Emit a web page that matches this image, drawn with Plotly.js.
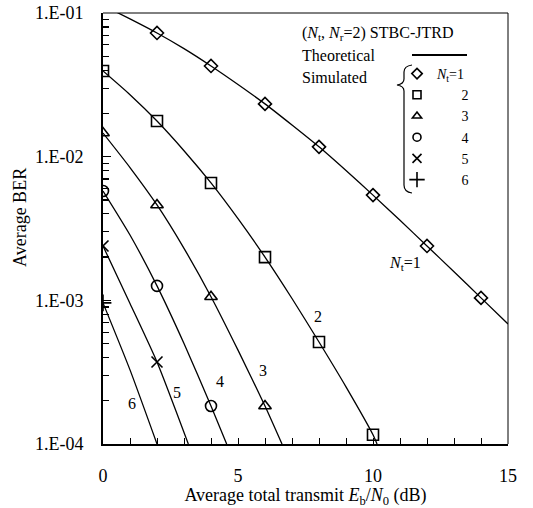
<!DOCTYPE html>
<html>
<head>
<meta charset="utf-8">
<script src="https://cdn.plot.ly/plotly-3.0.1.min.js"></script>
<style>html,body{margin:0;padding:0;background:#fff;}#chart{width:533px;height:508px;}</style>
</head>
<body>
<div id="chart"></div>
<script>
// ---- Data ----
// Theoretical curves (Eb/N0 in dB, BER)
const th1_x = [0, 1, 2, 3, 4, 5, 6, 7, 8, 9, 10, 11, 12, 13, 14, 15];
const th1_y = [0.113, 0.091, 0.0726, 0.0565, 0.0428, 0.0318, 0.0233, 0.0166, 0.0117, 0.0080, 0.0054, 0.00361, 0.00239, 0.00158, 0.00104, 0.000685];
const th2_x = [0, 1, 2, 3, 4, 5, 6, 7, 8, 9, 10, 10.15];
const th2_y = [0.0395, 0.027, 0.0177, 0.0110, 0.00656, 0.0037, 0.0020, 0.00103, 0.000513, 0.00025, 0.000116, 0.0001];
const th3_x = [0, 1, 2, 3, 4, 5, 6, 6.63];
const th3_y = [0.0146, 0.0084, 0.00461, 0.0023, 0.00106, 0.00045, 0.000184, 0.0001];
const th4_x = [0, 1, 2, 3, 4, 4.58];
const th4_y = [0.00577, 0.00285, 0.00126, 0.0005, 0.000184, 0.0001];
const th5_x = [0, 1, 2, 3.16];
const th5_y = [0.00239, 0.00095, 0.000372, 0.0001];
const th6_x = [0, 1, 2.0];
const th6_y = [0.00096, 0.000328, 0.0001];

// Simulated points
const sim1_x = [2, 4, 6, 8, 10, 12, 14];
const sim1_y = [0.0726, 0.0428, 0.0233, 0.0117, 0.0054, 0.00239, 0.00104];
const sim2_x = [0, 2, 4, 6, 8, 10];
const sim2_y = [0.0395, 0.0177, 0.00656, 0.0020, 0.000513, 0.000116];
const sim3_x = [0, 2, 4, 6];
const sim3_y = [0.0146, 0.00461, 0.00106, 0.000184];
const sim4_x = [0, 2, 4];
const sim4_y = [0.00577, 0.00126, 0.000184];
const sim5_x = [0, 2];
const sim5_y = [0.00239, 0.000372];
const sim6_x = [0];
const sim6_y = [0.00096];

const NB = '\u00a0';
const legendNames = ['<i>N</i><sub>t</sub>=1', NB.repeat(7) + '2', NB.repeat(7) + '3', NB.repeat(7) + '4', NB.repeat(7) + '5', NB.repeat(7) + '6'];
const curveLabels = ['<i>N</i><sub>t</sub>=1', '2', '3', '4', '5', '6'];
const yTickAlias = {'0.1': '1.E-01', '0.01': '1.E-02', '0.001': '1.E-03', '0.0001': '1.E-04'};
const xTickVals = [0, 5, 10, 15];
const xTickText = ['0', '5', '10', '15'];

// ---- Build traces ----
const FONT = 'Liberation Serif, Times New Roman, serif';
const thX = [th1_x, th2_x, th3_x, th4_x, th5_x, th6_x];
const thY = [th1_y, th2_y, th3_y, th4_y, th5_y, th6_y];
const simX = [sim1_x, sim2_x, sim3_x, sim4_x, sim5_x, sim6_x];
const simY = [sim1_y, sim2_y, sim3_y, sim4_y, sim5_y, sim6_y];
const symbols = ['diamond-open', 'square-open', 'triangle-up-open', 'circle-open', 'x-thin-open', 'cross-thin-open'];
const sizes = [10, 11, 11, 11, 11, 12];
const legendSizes = [8, 8, 8, 8, 9, 11];

const traces = [];
for (let i = 0; i < 6; i++) {
  traces.push({
    x: thX[i], y: thY[i], mode: 'lines', type: 'scatter',
    line: {color: '#000', width: 1.3, shape: 'spline', smoothing: 0.6},
    showlegend: false, hoverinfo: 'skip'
  });
}
for (let i = 0; i < 6; i++) {
  traces.push({
    x: simX[i], y: simY[i], mode: 'markers', type: 'scatter',
    marker: {symbol: symbols[i], size: sizes[i], color: '#000', line: {color: '#000', width: 1.6}},
    showlegend: false
  });
}
// key entries (smaller symbols, as in the reference key); they carry no points
for (let i = 0; i < 6; i++) {
  traces.push({
    x: [null], y: [null], mode: 'markers', type: 'scatter', name: legendNames[i],
    marker: {symbol: symbols[i], size: legendSizes[i], color: '#000', line: {color: '#000', width: 1.6}},
    showlegend: true
  });
}

// pixel -> paper helpers for the decorative key pieces
const L = 103, R = 508, T = 13, B = 444;
const px = v => (v - L) / (R - L);
const py = v => (B - v) / (B - T);

const bracePts = [[412,65],[404,66],[404,72],[404,79],[404,84],[397,85],[404,86],[404,91],[404,185],[404,192],[412,193]];
const p = bracePts.map(q => [px(q[0]).toFixed(4), py(q[1]).toFixed(4)]);
const bracePath = `M ${p[0][0]},${p[0][1]} Q ${p[1][0]},${p[1][1]} ${p[2][0]},${p[2][1]} L ${p[3][0]},${p[3][1]} Q ${p[4][0]},${p[4][1]} ${p[5][0]},${p[5][1]} Q ${p[6][0]},${p[6][1]} ${p[7][0]},${p[7][1]} L ${p[8][0]},${p[8][1]} Q ${p[9][0]},${p[9][1]} ${p[10][0]},${p[10][1]}`;

const ann = (x, y, text, opts) => Object.assign({x: x, y: y, text: text, showarrow: false, font: {family: FONT, size: 16, color: '#000'}}, opts || {});

const layout = {
  width: 533, height: 508,
  margin: {l: L, r: 533 - R, t: T, b: 508 - B, pad: 0},
  paper_bgcolor: '#fff', plot_bgcolor: '#fff',
  font: {family: FONT, size: 16, color: '#000'},
  xaxis: {
    range: [0, 15], tickmode: 'array', tickvals: xTickVals, ticktext: xTickText,
    ticks: 'inside', ticklen: 6, tickwidth: 1, tickcolor: '#000',
    minor: {dtick: 1, ticks: 'inside', ticklen: 6, tickwidth: 1, tickcolor: '#000', showgrid: false},
    showline: true, linewidth: 2, linecolor: '#000', mirror: false,
    showgrid: false, zeroline: false, ticklabelstandoff: 14,
    tickfont: {family: FONT, size: 18, color: '#000'},
    title: {text: 'Average total transmit <i>E</i><sub>b</sub>/<i>N</i><sub>0</sub> (dB)', font: {family: FONT, size: 18, color: '#000'}, standoff: 4}
  },
  yaxis: {
    type: 'log', range: [-4, -1], tickmode: 'linear', tick0: 0, dtick: 1,
    exponentformat: 'none', labelalias: yTickAlias,
    ticks: 'inside', ticklen: 8, tickwidth: 1.2, tickcolor: '#000',
    minor: {dtick: 'D1', ticks: 'inside', ticklen: 6, tickwidth: 1.2, tickcolor: '#000', showgrid: false},
    showline: true, linewidth: 2, linecolor: '#000', mirror: false,
    showgrid: false, zeroline: false, ticklabelstandoff: 14,
    tickfont: {family: FONT, size: 18, color: '#000'}
  },
  showlegend: true,
  legend: {
    x: px(397), y: py(58), xanchor: 'left', yanchor: 'top',
    bgcolor: 'rgba(0,0,0,0)', borderwidth: 0,
    font: {family: FONT, size: 14, color: '#000'},
    itemwidth: 30, tracegroupgap: 0
  },
  shapes: [
    {type: 'line', xref: 'paper', yref: 'paper', x0: 0, x1: 1, y0: 1, y1: 1, line: {color: '#000', width: 1}},
    {type: 'line', xref: 'paper', yref: 'paper', x0: 1, x1: 1, y0: 0, y1: 1, line: {color: '#000', width: 1}},
    {type: 'line', xref: 'paper', yref: 'paper', x0: px(412), x1: px(467), y0: py(55), y1: py(55), line: {color: '#000', width: 2}},
    {type: 'path', xref: 'paper', yref: 'paper', path: bracePath, line: {color: '#000', width: 1.2}}
  ],
  annotations: [
    ann(px(20), py(218), 'Average BER', {xref: 'paper', yref: 'paper', textangle: -90, xanchor: 'center', yanchor: 'middle', font: {family: FONT, size: 18, color: '#000'}}),
    ann(px(300), py(33), '(<i>N</i><sub>t</sub>, <i>N</i><sub>r</sub>=2) STBC-JTRD', {xref: 'paper', yref: 'paper', xanchor: 'left', yanchor: 'middle'}),
    ann(px(300), py(55), 'Theoretical', {xref: 'paper', yref: 'paper', xanchor: 'left', yanchor: 'middle'}),
    ann(px(300), py(78), 'Simulated', {xref: 'paper', yref: 'paper', xanchor: 'left', yanchor: 'middle'}),
    ann(11.19, -2.747, curveLabels[0]),
    ann(7.96, -3.115, curveLabels[1]),
    ann(5.93, -3.491, curveLabels[2]),
    ann(4.33, -3.568, curveLabels[3]),
    ann(2.74, -3.644, curveLabels[4]),
    ann(1.07, -3.721, curveLabels[5])
  ]
};

Plotly.newPlot('chart', traces, layout, {staticPlot: true, displayModeBar: false});
</script>
</body>
</html>
